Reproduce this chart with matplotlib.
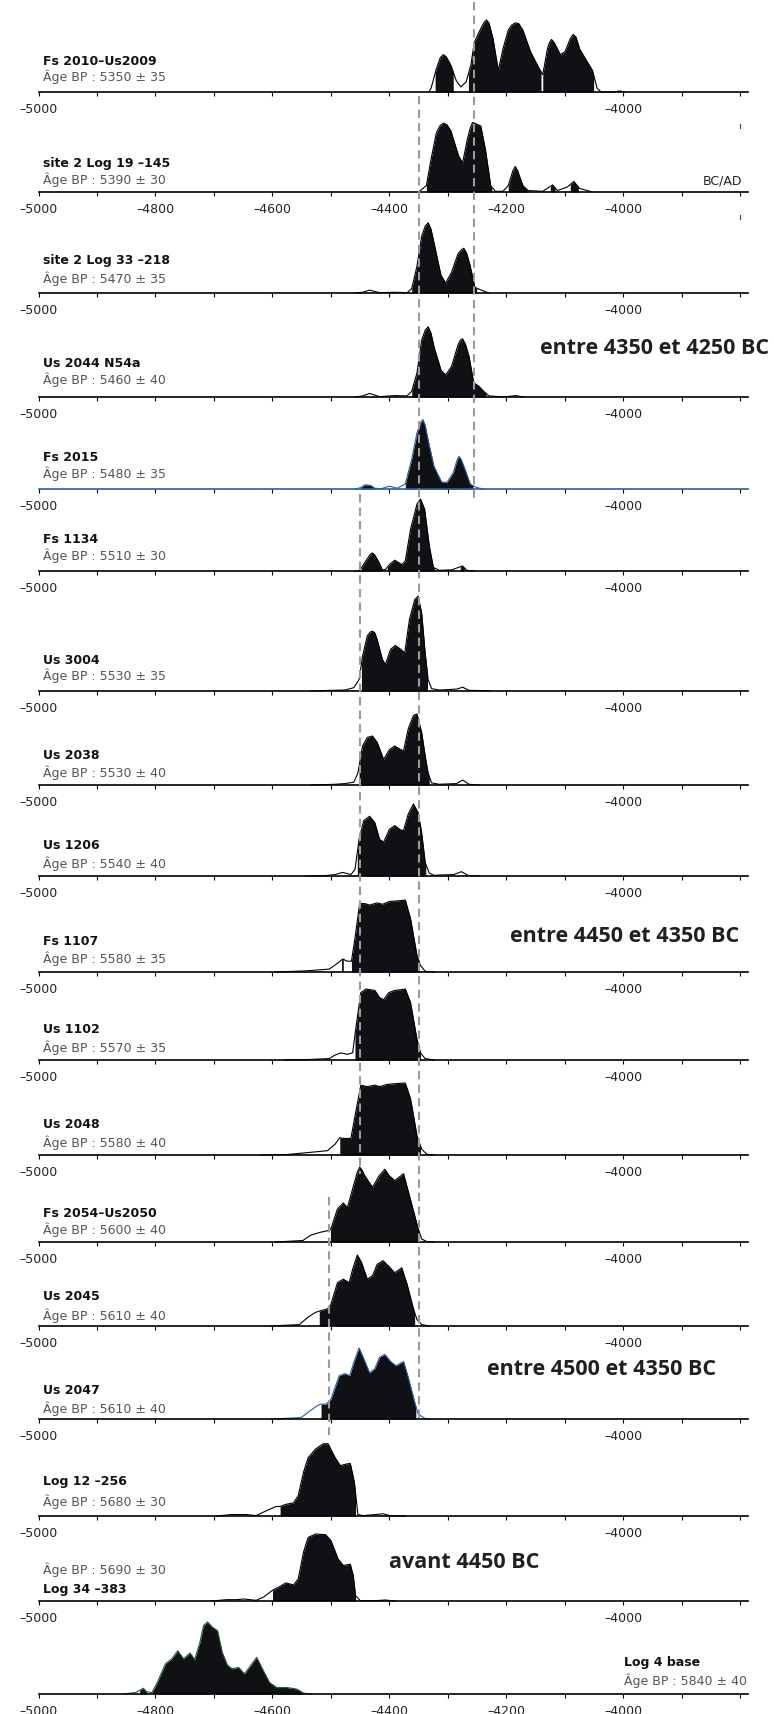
import numpy as np
import matplotlib.pyplot as plt

plt.rcParams["font.family"] = "DejaVu Sans"

# Echantillons, du haut vers le bas
names = ['Fs 2010–Us2009', 'site 2 Log 19 –145', 'site 2 Log 33 –218', 'Us 2044 N54a', 'Fs 2015',
         'Fs 1134', 'Us 3004', 'Us 2038', 'Us 1206', 'Fs 1107', 'Us 1102', 'Us 2048',
         'Fs 2054–Us2050', 'Us 2045', 'Us 2047', 'Log 12 –256', 'Log 34 –383', 'Log 4 base']
ages = ['5350 ± 35', '5390 ± 30', '5470 ± 35', '5460 ± 40', '5480 ± 35', '5510 ± 30',
        '5530 ± 35', '5530 ± 40', '5540 ± 40', '5580 ± 35', '5570 ± 35', '5580 ± 40',
        '5600 ± 40', '5610 ± 40', '5610 ± 40', '5680 ± 30', '5690 ± 30', '5840 ± 40']

# Courbes de probabilite (annee BC/AD, densite relative) + intervalles remplis
yr_fs2010 = [-4333, -4329, -4320, -4313, -4308, -4303, -4295, -4286, -4278, -4269, -4261, -4255,
             -4244, -4238, -4234, -4230, -4223, -4214, -4206, -4197, -4191, -4185, -4179, -4172,
             -4159, -4147, -4138, -4130, -4127, -4123, -4118, -4108, -4100, -4091, -4086, -4081,
             -4075, -4062, -4053, -4045, -4038, -4015, -4007, -3998]
pd_fs2010 = [0, 0.05, 0.32, 0.48, 0.52, 0.49, 0.37, 0.16, 0.07, 0.14, 0.37, 0.69,
             0.88, 0.97, 1.0, 0.96, 0.74, 0.30, 0.60, 0.86, 0.93, 0.96, 0.95, 0.86,
             0.56, 0.37, 0.24, 0.60, 0.68, 0.73, 0.68, 0.52, 0.56, 0.74, 0.80, 0.76,
             0.60, 0.42, 0.30, 0.05, 0, 0, 0.015, 0]
rng_fs2010 = [(-4322, -4291), (-4265, -4141), (-4138, -4051)]

yr_log19 = [-4350, -4337, -4329, -4320, -4314, -4308, -4302, -4295, -4282, -4275, -4267, -4262,
            -4258, -4252, -4244, -4236, -4227, -4219, -4206, -4197, -4189, -4185, -4181, -4172,
            -4163, -4138, -4121, -4113, -4096, -4085, -4075, -4053]
pd_log19 = [0, 0.09, 0.46, 0.83, 0.93, 0.97, 0.95, 0.86, 0.51, 0.41, 0.74, 0.90,
            0.98, 0.96, 0.93, 0.60, 0.09, 0.01, 0.01, 0.09, 0.30, 0.36, 0.30, 0.09,
            0.02, 0.01, 0.10, 0.02, 0.07, 0.15, 0.05, 0]
rng_log19 = [(-4337, -4225), (-4197, -4165), (-4125, -4117), (-4091, -4077)]

yr_log33 = [-4459, -4446, -4434, -4417, -4391, -4370, -4362, -4353, -4345, -4339, -4334, -4329,
            -4324, -4312, -4304, -4294, -4283, -4277, -4273, -4268, -4262, -4254, -4243, -4230]
pd_log33 = [0, 0.01, 0.04, 0.005, 0.01, 0.005, 0.06, 0.38, 0.80, 0.94, 0.99, 0.90,
            0.71, 0.25, 0.14, 0.29, 0.55, 0.61, 0.63, 0.56, 0.38, 0.08, 0.04, 0]
rng_log33 = [(-4362, -4251)]

yr_us2044 = [-4459, -4446, -4434, -4417, -4391, -4370, -4362, -4353, -4345, -4339, -4334, -4329,
             -4324, -4312, -4304, -4294, -4283, -4279, -4275, -4270, -4264, -4256, -4247, -4239,
             -4230, -4204, -4184, -4171]
pd_us2044 = [0, 0.015, 0.05, 0.005, 0.02, 0.015, 0.08, 0.34, 0.80, 0.94, 0.99, 0.90,
             0.71, 0.38, 0.31, 0.43, 0.73, 0.80, 0.82, 0.74, 0.57, 0.20, 0.15, 0.08,
             0.015, 0, 0.02, 0]
rng_us2044 = [(-4362, -4235)]

yr_fs2015 = [-4459, -4449, -4442, -4432, -4425, -4414, -4400, -4387, -4373, -4362, -4353, -4347,
             -4343, -4339, -4334, -4324, -4311, -4302, -4291, -4284, -4281, -4277, -4271, -4262,
             -4251, -4239]
pd_fs2015 = [0, 0.02, 0.06, 0.05, 0.01, 0.005, 0.04, 0.01, 0.07, 0.42, 0.79, 0.93,
             0.98, 0.90, 0.69, 0.32, 0.10, 0.09, 0.23, 0.42, 0.46, 0.41, 0.28, 0.07,
             0.02, 0]
rng_fs2015 = [(-4449, -4425), (-4373, -4257)]

yr_fs1134 = [-4459, -4451, -4442, -4433, -4429, -4425, -4418, -4412, -4407, -4400, -4391, -4379,
             -4373, -4364, -4353, -4347, -4340, -4332, -4325, -4315, -4294, -4275, -4268, -4256]
pd_fs1134 = [0, 0.005, 0.12, 0.23, 0.25, 0.22, 0.12, 0.015, 0.02, 0.09, 0.15, 0.09,
             0.14, 0.58, 0.93, 1.0, 0.86, 0.35, 0.05, 0.01, 0.015, 0.07, 0.01, 0]
rng_fs1134 = [(-4448, -4414), (-4404, -4323), (-4279, -4272)]

yr_us3004 = [-4534, -4501, -4476, -4461, -4452, -4446, -4438, -4433, -4429, -4425, -4421, -4412,
             -4407, -4398, -4390, -4381, -4374, -4366, -4357, -4351, -4345, -4339, -4334, -4328,
             -4315, -4285, -4275, -4264, -4230]
pd_us3004 = [0, 0.007, 0.01, 0.035, 0.12, 0.37, 0.58, 0.62, 0.63, 0.61, 0.54, 0.33,
             0.28, 0.44, 0.48, 0.44, 0.40, 0.75, 0.96, 1.0, 0.82, 0.40, 0.12, 0.025,
             0.01, 0.02, 0.04, 0.007, 0.003]
rng_us3004 = [(-4448, -4335)]

yr_us2038 = [-4534, -4493, -4476, -4461, -4454, -4446, -4438, -4429, -4421, -4410, -4400, -4391,
             -4381, -4376, -4368, -4359, -4353, -4345, -4339, -4334, -4328, -4315, -4285, -4275,
             -4264, -4247]
pd_us2038 = [0, 0.01, 0.02, 0.04, 0.17, 0.55, 0.67, 0.69, 0.60, 0.36, 0.50, 0.55,
             0.50, 0.48, 0.79, 0.98, 1.0, 0.74, 0.41, 0.17, 0.03, 0.01, 0.02, 0.07,
             0.01, 0]
rng_us2038 = [(-4452, -4332)]

yr_us1206 = [-4544, -4510, -4493, -4480, -4466, -4459, -4452, -4444, -4434, -4425, -4417, -4410,
             -4400, -4391, -4381, -4376, -4368, -4359, -4351, -4345, -4339, -4332, -4324, -4290,
             -4277, -4266, -4247]
pd_us1206 = [0, 0.005, 0.02, 0.05, 0.02, 0.09, 0.51, 0.77, 0.83, 0.74, 0.51, 0.47,
             0.65, 0.70, 0.64, 0.63, 0.86, 1.0, 0.88, 0.60, 0.19, 0.04, 0.01, 0.02,
             0.06, 0.01, 0]
rng_us1206 = [(-4455, -4338)]

yr_fs1107 = [-4595, -4544, -4503, -4489, -4480, -4472, -4465, -4459, -4451, -4442, -4434, -4421,
             -4412, -4400, -4383, -4373, -4364, -4353, -4347, -4339, -4323]
pd_fs1107 = [0, 0.015, 0.04, 0.12, 0.18, 0.15, 0.15, 0.47, 0.95, 0.95, 0.93, 0.96,
             0.94, 0.98, 0.99, 1.0, 0.74, 0.23, 0.09, 0.01, 0]
rng_fs1107 = [(-4482, -4479), (-4465, -4349)]

yr_us1102 = [-4580, -4544, -4503, -4493, -4483, -4472, -4463, -4457, -4449, -4440, -4425, -4417,
             -4410, -4401, -4391, -4381, -4373, -4364, -4353, -4347, -4339, -4324]
pd_us1102 = [0, 0.005, 0.02, 0.07, 0.10, 0.08, 0.10, 0.48, 0.95, 1.0, 0.98, 0.88,
             0.85, 0.95, 0.98, 0.99, 1.0, 0.81, 0.29, 0.10, 0.02, 0]
rng_us1102 = [(-4459, -4347)]

yr_us2048 = [-4620, -4578, -4544, -4506, -4493, -4485, -4479, -4466, -4459, -4449, -4438, -4425,
             -4417, -4404, -4391, -4373, -4364, -4353, -4345, -4336, -4324]
pd_us2048 = [0, 0.005, 0.03, 0.06, 0.15, 0.24, 0.23, 0.23, 0.54, 0.97, 0.95, 0.97,
             0.95, 0.98, 0.99, 1.0, 0.78, 0.27, 0.08, 0.01, 0]
rng_us2048 = [(-4485, -4347)]

yr_fs2054 = [-4595, -4548, -4535, -4518, -4503, -4500, -4489, -4479, -4472, -4463, -4455, -4451,
             -4447, -4442, -4429, -4418, -4408, -4400, -4391, -4376, -4366, -4351, -4345, -4336,
             -4324]
pd_fs2054 = [0, 0.02, 0.09, 0.13, 0.155, 0.18, 0.44, 0.52, 0.46, 0.71, 0.93, 1.0,
             0.96, 0.88, 0.73, 0.88, 0.97, 0.88, 0.82, 0.91, 0.62, 0.18, 0.04, 0.005,
             0]
rng_fs2054 = [(-4501, -4349)]

yr_us2045 = [-4603, -4554, -4540, -4527, -4520, -4506, -4500, -4489, -4479, -4469, -4463, -4455,
             -4448, -4438, -4429, -4421, -4411, -4400, -4391, -4379, -4370, -4359, -4353, -4345,
             -4332]
pd_us2045 = [0, 0.02, 0.12, 0.19, 0.21, 0.24, 0.31, 0.61, 0.66, 0.61, 0.80, 1.0,
             0.90, 0.66, 0.71, 0.87, 0.92, 0.83, 0.75, 0.82, 0.59, 0.24, 0.09, 0.02,
             0]
rng_us2045 = [(-4520, -4357)]

yr_us2047 = [-4603, -4551, -4535, -4523, -4517, -4508, -4500, -4486, -4476, -4468, -4461, -4452,
             -4445, -4434, -4425, -4417, -4408, -4398, -4389, -4376, -4368, -4357, -4351, -4340,
             -4332]
pd_us2047 = [0, 0.02, 0.12, 0.19, 0.21, 0.21, 0.28, 0.61, 0.64, 0.61, 0.80, 1.0,
             0.87, 0.65, 0.71, 0.87, 0.91, 0.81, 0.75, 0.81, 0.59, 0.24, 0.07, 0.01,
             0]
rng_us2047 = [(-4517, -4355)]

yr_log12 = [-4695, -4670, -4645, -4628, -4611, -4594, -4587, -4577, -4564, -4556, -4547, -4539,
            -4526, -4513, -4505, -4493, -4484, -4475, -4467, -4460, -4454, -4445, -4411, -4399,
            -4373]
pd_log12 = [0, 0.02, 0.02, 0.005, 0.07, 0.13, 0.13, 0.16, 0.18, 0.28, 0.60, 0.80,
            0.92, 0.99, 0.99, 0.80, 0.69, 0.71, 0.72, 0.46, 0.02, 0.005, 0.03, 0.005,
            0]
rng_log12 = [(-4587, -4458)]

yr_log34 = [-4704, -4678, -4661, -4649, -4628, -4615, -4600, -4589, -4577, -4564, -4556, -4547,
            -4539, -4526, -4509, -4500, -4488, -4479, -4467, -4462, -4458, -4450, -4424, -4407,
            -4390]
pd_log34 = [0, 0.02, 0.02, 0.03, 0.01, 0.06, 0.16, 0.21, 0.27, 0.24, 0.33, 0.73,
            0.95, 1.0, 0.99, 0.90, 0.63, 0.53, 0.55, 0.38, 0.08, 0.005, 0.005, 0.015,
            0]
rng_log34 = [(-4600, -4458)]

yr_log4 = [-4855, -4834, -4821, -4815, -4806, -4797, -4783, -4772, -4762, -4752, -4741, -4733,
           -4724, -4718, -4711, -4703, -4694, -4686, -4677, -4669, -4658, -4648, -4637, -4627,
           -4616, -4605, -4593, -4576, -4559, -4546, -4533]
pd_log4 = [0, 0.02, 0.08, 0.03, 0.02, 0.16, 0.42, 0.49, 0.60, 0.49, 0.57, 0.48,
           0.72, 0.95, 1.0, 0.93, 0.88, 0.58, 0.40, 0.35, 0.37, 0.28, 0.40, 0.51,
           0.33, 0.16, 0.09, 0.09, 0.07, 0.01, 0]
rng_log4 = [(-4827, -4815), (-4806, -4549)]

curves = [(yr_fs2010, pd_fs2010, rng_fs2010), (yr_log19, pd_log19, rng_log19),
          (yr_log33, pd_log33, rng_log33), (yr_us2044, pd_us2044, rng_us2044),
          (yr_fs2015, pd_fs2015, rng_fs2015), (yr_fs1134, pd_fs1134, rng_fs1134),
          (yr_us3004, pd_us3004, rng_us3004), (yr_us2038, pd_us2038, rng_us2038),
          (yr_us1206, pd_us1206, rng_us1206), (yr_fs1107, pd_fs1107, rng_fs1107),
          (yr_us1102, pd_us1102, rng_us1102), (yr_us2048, pd_us2048, rng_us2048),
          (yr_fs2054, pd_fs2054, rng_fs2054), (yr_us2045, pd_us2045, rng_us2045),
          (yr_us2047, pd_us2047, rng_us2047), (yr_log12, pd_log12, rng_log12),
          (yr_log34, pd_log34, rng_log34), (yr_log4, pd_log4, rng_log4)]

# Lignes pointillees (annee, haut, bas en px) et commentaires
dashed = [(-4255, 3, 500), (-4350, 97, 1422), (-4450, 495, 1175), (-4503, 1198, 1436)]
notes = ['entre 4350 et 4250 BC', 'entre 4450 et 4350 BC', 'entre 4500 et 4350 BC', 'avant 4450 BC']

# ---- mise en page (pixels, depuis le haut) ----
W, H = 774, 1715
X0, X1 = 38.5, 747.5
XMIN, XMAX = -5000, -3788
baselines = [93, 193, 294, 398, 490, 572, 692, 786, 877, 973, 1061, 1156, 1243, 1327, 1420,
             1517, 1602, 1695]
heights = [72, 71, 71, 71, 71, 72, 95, 71, 72, 72, 71, 72, 75, 71, 71, 73, 67, 72]
name_y = [61.7, 163.3, 260.7, 363.3, 457.3, 540, 660.7, 755.3, 846, 941.7, 1029.3, 1125,
          1213.3, 1296, 1391, 1481.7, 1590, 1662.7]
age_y = [76.7, 180, 279, 380, 474, 555.7, 675.7, 772.7, 863.3, 958.3, 1047.3, 1142.3, 1229.3,
         1315.7, 1408.3, 1501.7, 1569.3, 1680.7]
note_pos = [(540, 348), (510, 937), (487, 1370), (389, 1563)]

FILL = '#111015'
BLUE = '#2b5d9b'
GREEN = '#245c34'
line_col = ['black'] * 18
line_col[4] = BLUE
line_col[14] = BLUE
line_col[17] = GREEN

fig = plt.figure(figsize=(W / 100, H / 100), dpi=100)


def fig_xy(x, y):
    return x / W, 1 - y / H


def fill_range(ax, xs, ys, a, b):
    xs = np.asarray(xs, float)
    ys = np.asarray(ys, float)
    m = (xs > a) & (xs < b)
    px = np.concatenate([[a], xs[m], [b]])
    py = np.concatenate([[np.interp(a, xs, ys)], ys[m], [np.interp(b, xs, ys)]])
    ax.fill_between(px, 0, py, color=FILL, lw=0, clip_on=False)


ticks = np.arange(-5000, -3799, 100)
for i, (yrs, dens, rngs) in enumerate(curves):
    ax = fig.add_axes([X0 / W, 1 - baselines[i] / H, (X1 - X0) / W, heights[i] / H])
    ax.patch.set_alpha(0)
    ax.set_xlim(XMIN, XMAX)
    ax.set_ylim(0, 1)
    for a, b in rngs:
        fill_range(ax, yrs, dens, a, b)
    ax.plot(yrs, dens, color=line_col[i], lw=0.8, clip_on=False, solid_joinstyle='round')

    for s in ['top', 'left', 'right']:
        ax.spines[s].set_visible(False)
    ax.spines['bottom'].set_linewidth(1.2)
    ax.spines['bottom'].set_color(BLUE if i == 4 else 'black')
    ax.set_yticks([])
    every = 200 if i in (1, 17) else 1000
    ax.set_xticks(ticks)
    ax.set_xticklabels(['\u2013' + str(abs(t)) if t % every == 0 and t <= -4000 else ''
                        for t in ticks])
    ax.tick_params(axis='x', direction='out', length=3, width=0.8, pad=4,
                   labelsize=9, labelcolor='#222222')

    lx = 624 if i == 17 else 43
    fig.text(*fig_xy(lx, name_y[i]), names[i], fontsize=9, fontweight='bold',
             color='#111111', ha='left', va='center')
    fig.text(*fig_xy(lx, age_y[i]), 'Âge BP : ' + ages[i], fontsize=9,
             color='#555555', ha='left', va='center')

# BC/AD
fig.text(*fig_xy(742, 180.7), 'BC/AD', fontsize=9, color='#222222', ha='right', va='center')

# calque pour les pointilles
ov = fig.add_axes([X0 / W, 0, (X1 - X0) / W, 1])
ov.set_xlim(XMIN, XMAX)
ov.set_ylim(H, 0)
ov.axis('off')
ov.patch.set_alpha(0)
for x, y0, y1 in dashed:
    ov.plot([x, x], [y0, y1], color='#9a9a9a', lw=1.5, ls=(0, (4, 2.5)))
for ym in (127, 218):
    ov.plot([-3800, -3800], [ym - 2, ym + 2], color='#444444', lw=0.8)

for txt, (x, y) in zip(notes, note_pos):
    fig.text(*fig_xy(x, y), txt, fontsize=15.5, fontweight='bold', family='Open Sans',
             color='#231f20', ha='left', va='center')

fig.savefig('out.png', dpi=100)
